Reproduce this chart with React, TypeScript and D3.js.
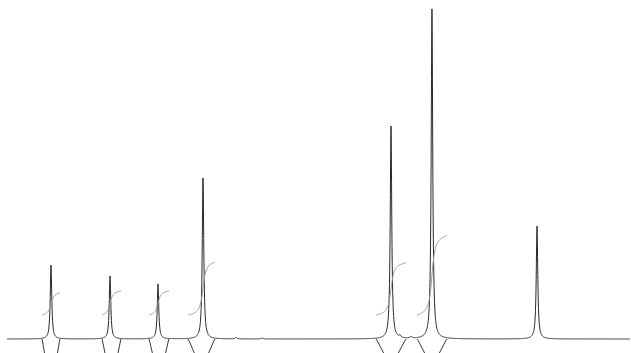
import React from 'react';
import * as d3 from 'd3';

// peak list (chemical shift in ppm, relative intensity)
const peakShifts = [7.935, 7.177, 6.561, 5.983, 3.569, 3.043, 1.694, 5.559, 5.226, 3.453, 3.312];
const peakHeights = [22.4, 19.1, 16.7, 48.8, 64.5, 100, 34.2, 0.45, 0.3, 0.6, 0.6];

// integration regions [start, end] in ppm and their integral values
const regionStarts = [8.051, 7.28, 6.677, 6.176, 3.762, 3.235];
const regionEnds = [7.819, 7.036, 6.42, 5.829, 3.376, 2.85];
const integralValues = [0.92, 1.0, 1.0, 2.2, 2.17, 3.3];

const width = 631;
const height = 353;

const lineWidth = 0.0116; // half width at half height, ppm
const integralWidth = 0.03;

const intensity = (ppm: number) =>
  d3.sum(peakShifts, (c, i) => peakHeights[i] / (1 + ((ppm - c) / lineWidth) ** 2));

const App = () => {
  const x = d3.scaleLinear().domain([8.5, 0.5]).range([7, 630]);
  const y = d3.scaleLinear().domain([0, 100]).range([339, 9]);
  const yInt = d3.scaleLinear().domain([0, 1]).range([315, 291]);

  // sample grid plus the exact peak centres so the tops are not clipped
  const grid = d3.range(8.5, 0.5, -0.003).concat(peakShifts).sort((a, b) => b - a);
  const spectrum = grid.map(p => [p, intensity(p)] as [number, number]);

  const line = d3.line<[number, number]>()
    .x(d => x(d[0]))
    .y(d => y(d[1]));

  const intLine = d3.line<[number, number]>()
    .x(d => x(d[0]))
    .y(d => yInt(d[1]))
    .curve(d3.curveBasis);

  const integrals = regionStarts.map((a, i) => {
    const b = regionEnds[i];
    const c = peakShifts[i];
    const f = (p: number) => Math.atan((c - p) / integralWidth);
    const f0 = f(a);
    const f1 = f(b);
    const pts = d3.range(a, b, -0.004).concat([b]).map(p =>
      [p, ((f(p) - f0) / (f1 - f0)) * integralValues[i]] as [number, number]);
    return intLine(pts);
  });

  const markers: string[] = [];
  regionStarts.forEach((a, i) => {
    const xa = x(a);
    const xb = x(regionEnds[i]);
    const lean = Math.max(2, (xb - xa - 12) * 0.45);
    markers.push(`M${xa},339 Q${xa + lean * 0.2},341 ${xa + lean * 0.3},343 L${xa + lean * 1.2},357`);
    markers.push(`M${xb},339 Q${xb - lean * 0.2},341 ${xb - lean * 0.3},343 L${xb - lean * 1.2},357`);
  });

  return (
    <svg width={width} height={height}
      style={{ position: 'absolute', left: 0, top: 0, background: '#fff' }}>
      <path d={line(spectrum) || ''} fill="none" stroke="#2a2a2a" strokeWidth={1} />
      {integrals.map((d, i) => (
        <path key={i} d={d || ''} fill="none" stroke="#9a9a9a" strokeWidth={1} />
      ))}
      {markers.map((d, i) => (
        <path key={i} d={d} fill="none" stroke="#3a3a3a" strokeWidth={1} />
      ))}
    </svg>
  );
};

export default App;
